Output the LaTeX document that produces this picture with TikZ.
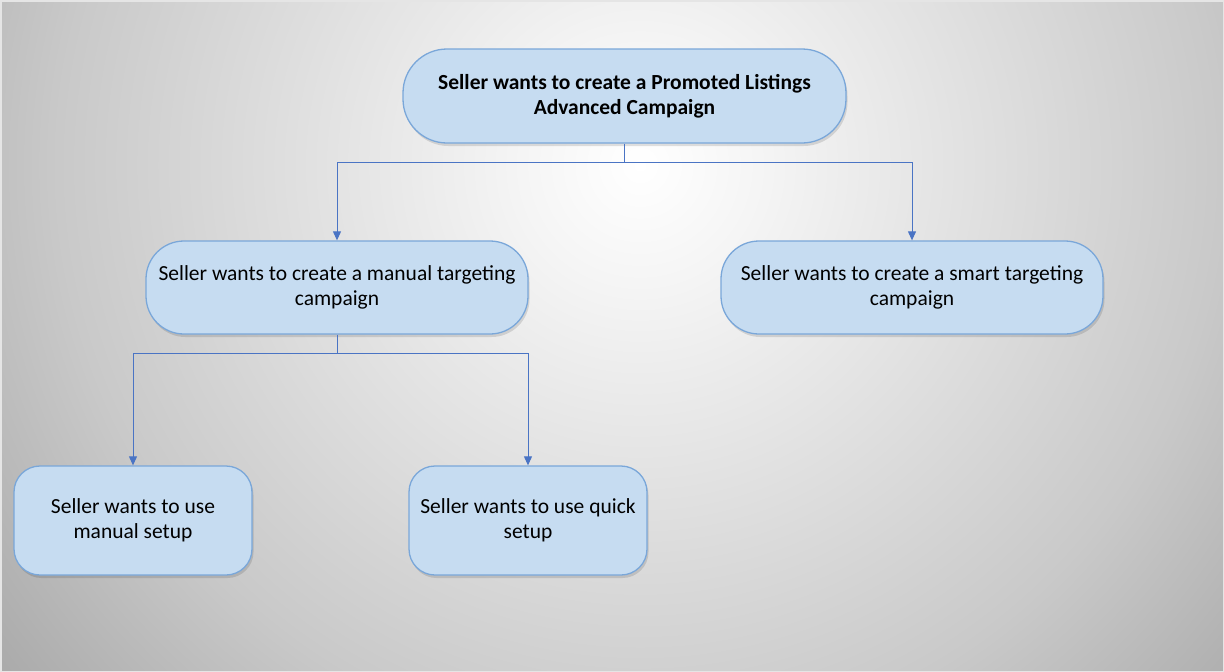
\documentclass[tikz,border=0pt]{standalone}
\usepackage{fontspec}
\setmainfont{Carlito}
\usetikzlibrary{arrows.meta,shadows}
\definecolor{boxfill}{HTML}{C6DCF1}
\definecolor{boxline}{HTML}{7AA7D9}
\definecolor{conncol}{HTML}{4A74C4}
\definecolor{bgA}{HTML}{C9C9C9}
\definecolor{bgB}{HTML}{A4A4A4}
\pgfdeclareradialshading{bgshade}{\pgfpoint{0bp}{0bp}}{color(0bp)=(white);color(120bp)=(white!96!black);color(580bp)=(bgA);color(860bp)=(bgB)}
\tikzset{
  flowbox/.style={draw=boxline, line width=1.3pt, fill=boxfill, align=center,
    font=\fontsize{21.5}{25}\selectfont, text=black, inner sep=0pt,
    drop shadow={shadow xshift=1.5pt, shadow yshift=-3pt, opacity=0.12, fill=black}},
  conn/.style={draw=conncol, line width=1pt, -{Triangle[length=9pt,width=8pt]}}
}
\begin{document}
\begin{tikzpicture}[x=1pt,y=-1pt]
\useasboundingbox (0,0) rectangle (1224,672);
\begin{scope}
\clip (0,0) rectangle (1224,672);
\node[inner sep=0pt] at (640,165) {\pgfuseshading{bgshade}};
\end{scope}
\draw[line width=1.5pt, draw=white!80!gray] (0.75,0.75) rectangle (1223.25,671.25);

\node[flowbox, minimum width=443pt, minimum height=94pt, rounded corners=44pt, font=\fontsize{21.5}{25}\selectfont\bfseries]
  (top) at (624.5,96) {Seller wants to create a Promoted Listings\\Advanced Campaign};
\node[flowbox, minimum width=382pt, minimum height=93pt, rounded corners=38pt]
  (manual) at (337,287.5) {Seller wants to create a manual targeting\\campaign};
\node[flowbox, minimum width=382pt, minimum height=93pt, rounded corners=38pt]
  (smart) at (912,287.5) {Seller wants to create a smart targeting\\campaign};
\node[flowbox, minimum width=238pt, minimum height=109pt, rounded corners=26pt]
  (msetup) at (133,520.5) {Seller wants to use\\manual setup};
\node[flowbox, minimum width=238pt, minimum height=109pt, rounded corners=26pt]
  (qsetup) at (528,520.5) {Seller wants to use quick\\setup};

\coordinate (j1) at (top.south |- 0,162);
\coordinate (j2) at (manual.south |- 0,353);
\draw[conn] (top.south) -- (j1) -| (manual.north);
\draw[conn] (j1) -| (smart.north);
\draw[conn] (manual.south) -- (j2) -| (msetup.north);
\draw[conn] (j2) -| (qsetup.north);
\end{tikzpicture}
\end{document}
